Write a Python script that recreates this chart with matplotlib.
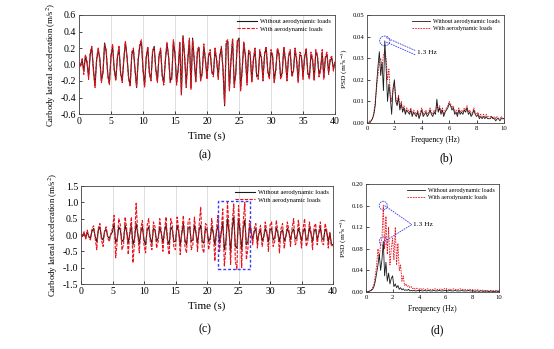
import numpy as np
import matplotlib
matplotlib.use("Agg")
import matplotlib.pyplot as plt
from matplotlib.patches import Ellipse, Rectangle

plt.rcParams['font.family'] = ['Liberation Serif', 'DejaVu Serif']
plt.rcParams['mathtext.fontset'] = 'stix'

# ---------------- data ----------------
time_s = np.arange(0, 40.001, 0.25)

acc_a_without = [
    0.00, 0.00, 0.05, -0.08, 0.10, 0.02, -0.15, 0.12, 0.20, -0.05, -0.26, 0.05, 0.18, 0.08, -0.20, -0.10, 0.26, 0.15, -0.12, -0.22,
    0.10, 0.22, -0.05, -0.18, 0.08, 0.20, -0.10, -0.20, 0.05, 0.27, 0.10, -0.15, -0.25, 0.12, 0.18, -0.05, -0.28, 0.05, 0.22, 0.28,
    -0.05, -0.25, 0.08, 0.20, -0.10, -0.18, 0.15, 0.22, -0.05, -0.20, 0.10, 0.18, -0.12, -0.22, 0.05, 0.25, 0.10, -0.20, -0.15, 0.28,
    0.12, -0.22, -0.05, 0.25, -0.36, 0.35, 0.10, -0.25, 0.05, 0.30, -0.28, 0.32, 0.05, -0.20, 0.15, 0.20, -0.18, -0.10, 0.22, 0.05,
    -0.15, 0.10, 0.15, -0.08, -0.12, 0.18, 0.05, -0.15, 0.10, 0.20, -0.05, -0.50, 0.25, 0.28, -0.30, 0.05, 0.30, -0.25, -0.10, 0.28,
    0.32, -0.30, -0.05, 0.25, 0.10, -0.22, 0.15, 0.12, -0.20, 0.05, 0.18, -0.12, -0.15, 0.15, 0.08, -0.18, 0.12, 0.20, -0.08, -0.15,
    0.15, 0.10, -0.20, -0.05, 0.18, 0.12, -0.15, -0.10, 0.20, 0.05, -0.18, 0.10, 0.15, -0.12, -0.08, 0.18, 0.05, -0.20, 0.12, 0.10,
    -0.15, 0.08, 0.18, -0.10, -0.15, 0.12, 0.05, -0.18, 0.15, 0.10, -0.12, -0.05, 0.15, -0.15, 0.08, 0.12, -0.10, 0.05, 0.08, -0.05, 0.02,
]
acc_a_with = [
    0.02, -0.03, 0.08, -0.12, 0.12, 0.05, -0.18, 0.15, 0.22, -0.08, -0.28, 0.08, 0.20, 0.05, -0.22, -0.08, 0.24, 0.18, -0.15, -0.25,
    0.12, 0.25, -0.08, -0.20, 0.10, 0.22, -0.12, -0.22, 0.08, 0.28, 0.08, -0.18, -0.27, 0.15, 0.20, -0.08, -0.27, 0.08, 0.25, 0.30,
    -0.08, -0.28, 0.10, 0.22, -0.12, -0.20, 0.18, 0.20, -0.08, -0.22, 0.12, 0.20, -0.15, -0.25, 0.08, 0.27, 0.08, -0.22, -0.18, 0.30,
    0.15, -0.25, -0.08, 0.28, -0.37, 0.33, 0.12, -0.28, 0.08, 0.32, -0.30, 0.30, 0.08, -0.22, 0.18, 0.22, -0.20, -0.12, 0.25, 0.08,
    -0.18, 0.12, 0.18, -0.10, -0.15, 0.20, 0.08, -0.18, 0.12, 0.22, -0.08, -0.48, 0.28, 0.30, -0.32, 0.08, 0.32, -0.28, -0.12, 0.30,
    0.30, -0.32, -0.08, 0.28, 0.12, -0.25, 0.18, 0.15, -0.22, 0.08, 0.20, -0.15, -0.18, 0.18, 0.10, -0.20, 0.15, 0.22, -0.10, -0.18,
    0.18, 0.12, -0.22, -0.08, 0.20, 0.15, -0.18, -0.12, 0.22, 0.08, -0.20, 0.12, 0.18, -0.15, -0.10, 0.20, 0.08, -0.22, 0.15, 0.12,
    -0.18, 0.10, 0.20, -0.12, -0.18, 0.15, 0.08, -0.20, 0.18, 0.12, -0.15, -0.08, 0.18, -0.18, 0.10, 0.15, -0.12, 0.08, 0.10, -0.08, 0.05,
]

acc_c_without = [
    0.00, 0.00, 0.05, -0.08, 0.10, -0.05, -0.10, 0.12, 0.20, -0.05, -0.20, 0.15, 0.25, -0.08, -0.15, 0.10, 0.18, -0.05, -0.10, 0.02,
    0.10, 0.35, -0.25, -0.10, 0.25, 0.15, -0.20, -0.15, 0.30, 0.10, -0.25, 0.05, 0.28, -0.30, -0.10, 0.35, 0.05, -0.28, 0.10, 0.25,
    -0.15, -0.30, 0.15, 0.25, -0.10, -0.25, 0.20, 0.15, -0.20, -0.10, 0.25, 0.05, -0.25, 0.10, 0.30, -0.15, -0.30, 0.25, 0.15, -0.20,
    -0.20, 0.30, 0.10, -0.30, 0.05, 0.35, -0.15, -0.30, 0.20, 0.25, -0.20, -0.15, 0.30, 0.05, -0.25, 0.15, 0.30, -0.20, -0.25, 0.20,
    0.15, -0.20, -0.10, 0.25, 0.05, -0.30, 0.10, 0.30, -0.20, 0.05, 0.40, -0.45, -0.20, 0.50, 0.10, -0.50, 0.20, 0.55, -0.35, -0.40,
    0.50, 0.10, -0.45, 0.20, 0.45, -0.30, -0.20, 0.25, 0.10, -0.15, 0.10, 0.20, -0.20, 0.05, 0.15, -0.18, -0.05, 0.20, 0.05, -0.20,
    0.15, 0.20, -0.15, -0.10, 0.22, 0.05, -0.20, 0.10, 0.15, -0.18, -0.05, 0.20, 0.08, -0.15, 0.10, 0.18, -0.12, -0.08, 0.20, 0.05,
    -0.18, 0.10, 0.20, -0.15, -0.10, 0.22, 0.05, -0.20, 0.12, 0.18, -0.15, 0.05, 0.22, -0.10, -0.15, 0.18, 0.10, -0.20, 0.05, -0.28, -0.30,
]
acc_c_with = [
    0.00, -0.05, 0.10, -0.12, 0.15, -0.08, -0.15, 0.20, 0.28, -0.10, -0.45, 0.20, 0.35, -0.15, -0.35, 0.15, 0.25, -0.10, -0.20, 0.05,
    0.20, 0.60, -0.70, -0.20, 0.50, 0.30, -0.45, -0.30, 0.55, 0.20, -0.60, 0.10, 0.55, -0.85, -0.20, 0.97, 0.10, -0.55, 0.20, 0.45,
    -0.30, -0.55, 0.30, 0.50, -0.20, -0.45, 0.40, 0.25, -0.40, -0.20, 0.50, 0.10, -0.50, 0.15, 0.55, -0.30, -0.60, 0.50, 0.30, -0.40,
    -0.45, 0.55, 0.20, -0.60, 0.10, 0.60, -0.35, -0.55, 0.40, 0.50, -0.45, -0.30, 0.55, 0.10, -0.50, 0.30, 0.85, -0.40, -0.55, 0.35,
    0.30, -0.45, -0.20, 0.50, 0.10, -0.80, 0.20, 0.60, -0.50, 0.10, 0.80, -0.95, -0.40, 1.00, 0.20, -0.90, 0.40, 0.95, -0.80, -1.05,
    0.90, 0.20, -1.00, 0.40, 1.00, -0.75, -0.40, 0.45, 0.20, -0.30, 0.20, 0.35, -0.40, 0.10, 0.30, -0.35, -0.10, 0.40, 0.10, -0.50,
    0.30, 0.40, -0.35, -0.20, 0.45, 0.10, -0.55, 0.20, 0.35, -0.40, -0.10, 0.40, 0.15, -0.35, 0.20, 0.50, -0.30, -0.20, 0.45, 0.10,
    -0.40, 0.20, 0.50, -0.35, -0.20, 0.40, 0.10, -0.45, 0.25, 0.35, -0.30, 0.10, 0.40, -0.25, -0.30, 0.35, 0.15, -0.40, 0.10, -0.35, -0.30,
]

freq_hz = np.arange(0, 10.001, 0.1)

psd_b_without = [
    0.000, 0.000, 0.000, 0.001, 0.002, 0.004, 0.008, 0.018, 0.026, 0.033,
    0.022, 0.028, 0.015, 0.038, 0.025, 0.010, 0.018, 0.012, 0.004, 0.016,
    0.020, 0.010, 0.008, 0.012, 0.006, 0.009, 0.005, 0.007, 0.004, 0.006,
    0.005, 0.004, 0.006, 0.003, 0.005, 0.004, 0.003, 0.005, 0.002, 0.004,
    0.006, 0.003, 0.004, 0.005, 0.003, 0.004, 0.006, 0.004, 0.003, 0.005,
    0.004, 0.011, 0.005, 0.007, 0.004, 0.006, 0.003, 0.005, 0.006, 0.007,
    0.009, 0.008, 0.006, 0.007, 0.004, 0.005, 0.003, 0.006, 0.004, 0.005,
    0.004, 0.006, 0.005, 0.007, 0.004, 0.005, 0.003, 0.004, 0.006, 0.004,
    0.003, 0.004, 0.002, 0.003, 0.002, 0.003, 0.002, 0.003, 0.002, 0.002,
    0.002, 0.003, 0.002, 0.002, 0.001, 0.002, 0.002, 0.001, 0.002, 0.002, 0.002,
]
psd_b_with = [
    0.000, 0.000, 0.001, 0.001, 0.002, 0.005, 0.010, 0.016, 0.022, 0.028,
    0.030, 0.025, 0.032, 0.033, 0.030, 0.020, 0.025, 0.014, 0.010, 0.015,
    0.018, 0.012, 0.009, 0.013, 0.007, 0.010, 0.006, 0.008, 0.005, 0.007,
    0.006, 0.005, 0.007, 0.004, 0.006, 0.005, 0.004, 0.006, 0.003, 0.005,
    0.007, 0.004, 0.005, 0.006, 0.004, 0.005, 0.007, 0.005, 0.004, 0.006,
    0.005, 0.009, 0.006, 0.008, 0.005, 0.007, 0.004, 0.006, 0.007, 0.008,
    0.010, 0.009, 0.007, 0.008, 0.005, 0.006, 0.004, 0.007, 0.005, 0.006,
    0.005, 0.007, 0.006, 0.008, 0.005, 0.006, 0.004, 0.005, 0.007, 0.005,
    0.004, 0.005, 0.003, 0.004, 0.003, 0.004, 0.003, 0.004, 0.003, 0.003,
    0.003, 0.003, 0.002, 0.003, 0.002, 0.003, 0.002, 0.002, 0.003, 0.002, 0.002,
]

psd_d_without = [
    0.000, 0.000, 0.001, 0.002, 0.003, 0.005, 0.010, 0.020, 0.035, 0.050,
    0.070, 0.040, 0.060, 0.094, 0.030, 0.055, 0.020, 0.035, 0.015, 0.025,
    0.030, 0.010, 0.015, 0.008, 0.012, 0.005, 0.008, 0.004, 0.006, 0.003,
    0.004, 0.003, 0.005, 0.002, 0.003, 0.002, 0.003, 0.002, 0.002, 0.003,
    0.002, 0.003, 0.002, 0.002, 0.003, 0.002, 0.002, 0.003, 0.002, 0.002,
    0.002, 0.003, 0.002, 0.002, 0.002, 0.003, 0.002, 0.002, 0.002, 0.003,
    0.003, 0.002, 0.002, 0.003, 0.002, 0.002, 0.002, 0.003, 0.002, 0.002,
    0.002, 0.002, 0.003, 0.002, 0.002, 0.002, 0.002, 0.003, 0.002, 0.002,
    0.002, 0.002, 0.001, 0.002, 0.002, 0.001, 0.002, 0.002, 0.001, 0.002,
    0.001, 0.002, 0.001, 0.001, 0.002, 0.001, 0.001, 0.001, 0.002, 0.001, 0.001,
]
psd_d_with = [
    0.000, 0.001, 0.001, 0.002, 0.004, 0.008, 0.015, 0.030, 0.050, 0.080,
    0.060, 0.090, 0.100, 0.160, 0.080, 0.140, 0.070, 0.120, 0.050, 0.080,
    0.100, 0.060, 0.120, 0.050, 0.090, 0.040, 0.050, 0.020, 0.030, 0.012,
    0.015, 0.010, 0.012, 0.008, 0.010, 0.006, 0.008, 0.005, 0.007, 0.006,
    0.005, 0.007, 0.004, 0.006, 0.005, 0.004, 0.006, 0.005, 0.004, 0.005,
    0.004, 0.005, 0.006, 0.004, 0.005, 0.004, 0.006, 0.005, 0.004, 0.006,
    0.007, 0.005, 0.004, 0.006, 0.004, 0.005, 0.006, 0.004, 0.005, 0.004,
    0.005, 0.006, 0.004, 0.005, 0.004, 0.005, 0.004, 0.004, 0.005, 0.004,
    0.004, 0.003, 0.004, 0.003, 0.004, 0.003, 0.003, 0.004, 0.003, 0.003,
    0.003, 0.003, 0.002, 0.003, 0.003, 0.002, 0.003, 0.002, 0.003, 0.002, 0.002,
]

peak_freq = 1.3
label_without = "Without aerodynamic loads"
label_with = "With aerodynamic loads"
acc_ylabel = "Carbody lateral acceleration (m/s$^2$)"
psd_ylabel = "PSD (m$^2$s$^{-3}$)"

# ---------------- layout ----------------
W, H = 554, 349
fig = plt.figure(figsize=(W / 100, H / 100), dpi=100)


def px_axes(left, top, right, bottom):
    return fig.add_axes([left / W, 1 - bottom / H, (right - left) / W, (bottom - top) / H])


BLACK = "#1a1a1a"
RED = "#e8101a"
BLUE = "#3a3aee"


def style_axes(ax, tick_fs):
    ax.tick_params(direction="in", length=2, width=0.5, labelsize=tick_fs, pad=2)
    for s in ax.spines.values():
        s.set_linewidth(0.6)
        s.set_color("#444444")


def time_panel(ax, yw, yc, ylim, yticks):
    ax.plot(time_s, yw, color=BLACK, lw=0.8, label=label_without, zorder=2)
    ax.plot(time_s, yc, color=RED, lw=0.8, ls=(0, (3, 1.2)), label=label_with, zorder=3)
    ax.set_xlim(0, 40)
    ax.set_ylim(*ylim)
    ax.set_xticks(range(0, 41, 5))
    ax.set_yticks(yticks)
    ax.set_yticklabels([f"{v:.1f}" for v in yticks])
    ax.grid(axis="x", color="#d8d8d8", lw=0.6)
    ax.set_axisbelow(True)
    style_axes(ax, 7)
    ax.set_xlabel("Time (s)", fontsize=8, labelpad=4)
    ax.set_ylabel(acc_ylabel, fontsize=6.3, labelpad=2)
    ax.legend(loc="upper right", fontsize=4.6, frameon=False, handlelength=3.2,
              borderaxespad=0.2, labelspacing=0.3, handletextpad=0.5)


def psd_panel(ax, pw, pc, ylim, yticks):
    ax.plot(freq_hz, pw, color=BLACK, lw=0.6, label=label_without, zorder=3)
    ax.plot(freq_hz, pc, color=RED, lw=0.6, ls=(0, (2, 1.2)), label=label_with, zorder=2)
    ax.set_xlim(0, 10)
    ax.set_ylim(*ylim)
    ax.set_xticks(range(0, 11, 2))
    ax.set_yticks(yticks)
    ax.set_yticklabels([f"{v:.2f}" for v in yticks])
    style_axes(ax, 4.8)
    ax.set_xlabel("Frequency (Hz)", fontsize=5.6, labelpad=4)
    ax.set_ylabel(psd_ylabel, fontsize=5.4, labelpad=2)
    ax.legend(loc="upper right", fontsize=4.3, frameon=False, handlelength=3.0,
              borderaxespad=0.3, labelspacing=0.3, handletextpad=0.5)


# (a)
ax_a = px_axes(79, 15, 335, 114)
time_panel(ax_a, acc_a_without, acc_a_with, (-0.6, 0.6), np.arange(-0.6, 0.61, 0.2))

# (b)
ax_b = px_axes(367, 15, 504, 123)
psd_panel(ax_b, psd_b_without, psd_b_with, (0, 0.05), np.arange(0, 0.051, 0.01))
pk_b = psd_b_without[int(round(peak_freq / 0.1))]
ax_b.add_patch(Ellipse((peak_freq, pk_b), 0.75, 0.0045, fill=False, ec=BLUE, lw=0.6, ls=(0, (2, 1))))
ax_b.plot([peak_freq + 0.1, 3.55], [pk_b + 0.0015, 0.0335], color=BLUE, lw=0.6, ls=(0, (2, 1)))
ax_b.plot([peak_freq + 0.1, 3.55], [pk_b - 0.0005, 0.0315], color=BLUE, lw=0.6, ls=(0, (2, 1)))
ax_b.text(3.65, 0.0325, "1.3 Hz", fontsize=5.4, va="center", ha="left")

# (c)
ax_c = px_axes(81, 186, 333, 284)
time_panel(ax_c, acc_c_without, acc_c_with, (-1.5, 1.5), np.arange(-1.5, 1.51, 0.5))
ax_c.add_patch(Rectangle((21.8, -1.05), 5.1, 2.1, fill=False, ec=BLUE, lw=1.0,
                         ls=(0, (2, 1.5)), zorder=5))

# (d)
ax_d = px_axes(366, 184, 499, 292)
psd_panel(ax_d, psd_d_without, psd_d_with, (0, 0.2), np.arange(0, 0.201, 0.04))
i_pk = int(round(peak_freq / 0.1))
for yv in (psd_d_with[i_pk], psd_d_without[i_pk]):
    ax_d.add_patch(Ellipse((peak_freq, yv), 0.6, 0.016, fill=False, ec=BLUE, lw=0.6, ls=(0, (2, 1))))
    ax_d.plot([peak_freq + 0.1, 3.45], [yv, 0.125], color=BLUE, lw=0.6, ls=(0, (2, 1)))
ax_d.text(3.5, 0.125, "1.3 Hz", fontsize=5.4, va="center", ha="left")

# panel captions
for x, y, s in [(205, 155, "(a)"), (446, 158, "(b)"), (205, 329, "(c)"), (437, 330, "(d)")]:
    fig.text(x / W, 1 - y / H, s, fontsize=8.5, ha="center", va="center")

fig.savefig("out.png", dpi=100)
